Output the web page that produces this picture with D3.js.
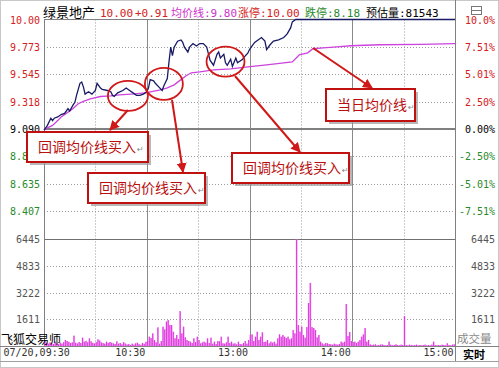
<!DOCTYPE html>
<html>
<head>
<meta charset="utf-8">
<script src="https://cdn.jsdelivr.net/npm/d3@7/dist/d3.min.js"></script>
<style>
  html, body { margin: 0; padding: 0; background: #fff; }
  svg { display: block; }
  .mono { font-family: "DejaVu Sans Mono", "Noto Sans CJK SC", monospace; }
  .cjk { font-family: "Noto Sans CJK SC", "DejaVu Sans", sans-serif; }
</style>
</head>
<body>
<svg id="chart" width="499" height="368"></svg>
<script>
// ---- intraday data: minutes after 09:30 (0..240) ----
const priceMinutes = [0,1,2,4,5,6,8,10,12,14,15,17,18,19,21,22,23,24,26,28,30,31,33,34,37,39,40,41,43,46,47,48,50,52,54,56,58,60,61,62,64,65,67,69,70,72,73,74,75,76,78,80,81,82,84,85,87,89,91,93,95,97,99,101,102,103,105,106,107,109,110,112,113,116,117,119,120,121,123,125,127,129,130,132,134,137,140,142,144,145,147,150,180,210,240];
const priceValues  = [9.08,9.10,9.12,9.18,9.16,9.18,9.19,9.21,9.22,9.26,9.24,9.29,9.31,9.37,9.47,9.48,9.44,9.38,9.40,9.38,9.41,9.47,9.43,9.42,9.41,9.40,9.37,9.36,9.39,9.41,9.42,9.43,9.41,9.39,9.37,9.37,9.38,9.40,9.43,9.50,9.49,9.47,9.44,9.41,9.45,9.51,9.65,9.77,9.70,9.77,9.82,9.83,9.81,9.77,9.73,9.77,9.80,9.78,9.80,9.80,9.77,9.66,9.62,9.71,9.73,9.68,9.71,9.64,9.62,9.67,9.61,9.68,9.64,9.67,9.69,9.72,9.75,9.77,9.81,9.83,9.85,9.82,9.75,9.79,9.82,9.83,9.85,9.88,9.93,9.98,10.00,10.00,10.00,10.00,10.00];

const avgMinutes = [0,2,5,8,10,13,17,20,23,27,33,39,44,53,59,62,68,72,76,79,83,86,91,99,109,119,130,140,145,148,149,154,157,163,171,179,196,220,240];
const avgValues  = [9.08,9.10,9.12,9.16,9.19,9.22,9.26,9.30,9.32,9.34,9.36,9.365,9.373,9.382,9.39,9.398,9.415,9.432,9.457,9.49,9.532,9.557,9.565,9.582,9.59,9.607,9.623,9.64,9.648,9.69,9.707,9.723,9.757,9.765,9.773,9.782,9.79,9.794,9.80];

// one-minute volume bars, 240 minutes
const volumes = [
  320,180,140,210,160,120,260,150,110,190,
  140,230,360,300,250,180,220,620,200,150,
  240,180,500,260,310,220,460,280,190,150,
  230,400,330,210,170,140,260,180,240,200,
  160,120,280,140,180,100,230,150,90,120,
  60,140,80,160,200,110,70,180,130,250,
  300,560,480,760,360,220,1120,140,300,1160,
  1000,1470,1560,1260,1260,860,460,660,420,2100,
  760,1160,520,360,300,260,180,460,240,560,
  360,160,220,260,200,460,180,500,140,260,
  120,300,280,560,160,140,220,560,180,260,
  140,160,100,260,120,100,180,300,140,360,
  660,700,300,560,860,360,560,820,240,260,
  360,160,260,200,260,140,460,700,560,660,
  560,480,560,400,460,960,760,6445,1260,860,
  1160,660,500,1140,2590,3800,1140,1080,960,520,
  660,260,160,100,180,160,120,100,80,140,
  100,80,120,260,200,260,2530,600,840,300,
  240,260,180,260,360,560,700,1080,260,360,
  100,60,80,100,40,60,80,100,60,40,
  60,260,80,40,60,100,60,40,80,60,
  1800,60,40,80,60,40,60,80,40,60,
  40,60,80,40,60,40,80,260,60,40,
  60,40,80,60,40,160,60,40,80,100
];

const prevClose = 9.09;
const priceTicks = [10.00, 9.7725, 9.545, 9.3175, 9.09, 8.8625, 8.635, 8.4075];
const priceTickLabels = ["10.00","9.773","9.545","9.318","9.090","8.863","8.635","8.407"];
const pctTickLabels = ["10.0%","7.51%","5.01%","2.50%","0.00%","-2.50%","-5.01%","-7.51%"];
const volTicks = [6445, 4833, 3222, 1611];
const timeTicks = [0, 60, 120, 180, 240];
const timeTickLabels = ["07/20,09:30","10:30","13:00","14:00","15:00"];
const halfHourTicks = [30, 90, 150, 210];
const hourTicks = [60, 120, 180];

const header = [
  {text: "绿景地产", x: 43, color: "#000", cls: "cjk", size: 13},
  {text: "10.00", x: 100, color: "#d42020", cls: "mono", size: 11},
  {text: "+0.91", x: 135, color: "#d42020", cls: "mono", size: 11},
  {text: "均价线:9.80", x: 171, color: "#cc33cc", cls: "mono", size: 11},
  {text: "涨停:10.00", x: 238, color: "#d42020", cls: "mono", size: 11},
  {text: "跌停:8.18", x: 305, color: "#2a8a2a", cls: "mono", size: 11},
  {text: "预估量:81543", x: 366, color: "#000", cls: "mono", size: 11}
];

// ---- geometry ----
const L = 44, R = 455, T = 19.5, MID = 239, VB = 346;
const x = d3.scaleLinear().domain([0, 240]).range([L, R]);
const y = d3.scaleLinear().domain([8.18, 10.00]).range([238.5, T]);
const yv = d3.scaleLinear().domain([0, 6445]).range([VB, MID]);

const svg = d3.select("#chart");
const upColor = "#d42020", downColor = "#2a8a2a";
const tickColor = v => v > prevClose + 1e-6 ? upColor : (v < prevClose - 1e-6 ? downColor : "#000");

// outer border
svg.append("rect").attr("x", 0.5).attr("y", 0.5).attr("width", 498).attr("height", 367)
  .attr("fill", "none").attr("stroke", "#c8c8c8");

// ---- grid ----
const grid = svg.append("g");
priceTicks.filter(v => v !== 10 && v !== prevClose).forEach(v => {
  grid.append("line").attr("x1", L).attr("x2", R).attr("y1", Math.round(y(v)) + 0.5).attr("y2", Math.round(y(v)) + 0.5)
    .attr("stroke", "#9a9a9a").attr("stroke-dasharray", "1,2");
});
volTicks.slice(1).forEach(v => {
  grid.append("line").attr("x1", L).attr("x2", R).attr("y1", Math.round(yv(v)) + 0.5).attr("y2", Math.round(yv(v)) + 0.5)
    .attr("stroke", "#9a9a9a").attr("stroke-dasharray", "1,2");
});
halfHourTicks.forEach(t => {
  grid.append("line").attr("x1", Math.round(x(t)) + 0.5).attr("x2", Math.round(x(t)) + 0.5).attr("y1", T).attr("y2", VB)
    .attr("stroke", "#9a9a9a").attr("stroke-dasharray", "1,2");
});
hourTicks.forEach(t => {
  grid.append("line").attr("x1", Math.round(x(t)) + 0.5).attr("x2", Math.round(x(t)) + 0.5).attr("y1", T).attr("y2", VB)
    .attr("stroke", "#8a8a8a");
});
// previous close line and price/volume divider
grid.append("line").attr("x1", L).attr("x2", R).attr("y1", y(prevClose)).attr("y2", y(prevClose))
  .attr("stroke", "#808080").attr("stroke-width", 2);
grid.append("line").attr("x1", L).attr("x2", R).attr("y1", MID + 0.5).attr("y2", MID + 0.5)
  .attr("stroke", "#707070").attr("stroke-width", 1.2);

// frame
const frame = svg.append("g").attr("stroke", "#808080").attr("fill", "none");
frame.append("line").attr("x1", L).attr("x2", R).attr("y1", T).attr("y2", T);
frame.append("line").attr("x1", L + 0.5).attr("x2", L + 0.5).attr("y1", T).attr("y2", VB);
frame.append("line").attr("x1", R + 0.5).attr("x2", R + 0.5).attr("y1", 0).attr("y2", 362);
frame.append("line").attr("x1", 0).attr("x2", 499).attr("y1", VB + 0.5).attr("y2", VB + 0.5);
frame.append("line").attr("x1", 0).attr("x2", 499).attr("y1", 361.5).attr("y2", 361.5).attr("stroke", "#a0a0a0");

// ---- volume bars: light fill with a darker edge line ----
const bars = svg.append("g");
bars.selectAll("rect.v").data(volumes).join("rect")
  .attr("class", "v")
  .attr("x", (d, i) => x(i + 0.5) - 0.8)
  .attr("width", 1.7)
  .attr("y", d => yv(d))
  .attr("height", d => VB - yv(d))
  .attr("fill", "#f29af2");
bars.selectAll("line.v").data(volumes).join("line")
  .attr("class", "v")
  .attr("x1", (d, i) => x(i + 0.5)).attr("x2", (d, i) => x(i + 0.5))
  .attr("y1", d => yv(d)).attr("y2", VB)
  .attr("stroke", "#d81ed8").attr("stroke-width", 0.8);

// ---- average and price lines ----
const lineGen = d3.line().x(d => x(d[0])).y(d => y(d[1]));
svg.append("path").datum(avgMinutes.map((m, i) => [m, avgValues[i]]))
  .attr("d", lineGen).attr("fill", "none").attr("stroke", "#cc44dd").attr("stroke-width", 1.3);
svg.append("path").datum(priceMinutes.map((m, i) => [m, priceValues[i]]))
  .attr("d", lineGen).attr("fill", "none").attr("stroke", "#181a66").attr("stroke-width", 1.3);

// ---- axes ----
const leftAxis = svg.append("g").attr("class", "mono").attr("transform", `translate(${L - 4},0)`)
  .call(d3.axisLeft(y).tickValues(priceTicks).tickSize(0).tickPadding(0)
    .tickFormat((d, i) => priceTickLabels[i]));
leftAxis.select(".domain").remove();
leftAxis.selectAll("text").attr("font-size", 10).attr("fill", d => tickColor(d)).attr("dy", "0.35em");

const rightAxis = svg.append("g").attr("class", "mono").attr("transform", "translate(495,0)")
  .call(d3.axisLeft(y).tickValues(priceTicks).tickSize(0).tickPadding(0)
    .tickFormat((d, i) => pctTickLabels[i]));
rightAxis.select(".domain").remove();
rightAxis.selectAll("text").attr("font-size", 10).attr("fill", d => tickColor(d)).attr("dy", "0.35em");

const volAxisL = svg.append("g").attr("class", "mono").attr("transform", `translate(${L - 4},0)`)
  .call(d3.axisLeft(yv).tickValues(volTicks).tickSize(0).tickPadding(0).tickFormat(d3.format("d")));
volAxisL.select(".domain").remove();
volAxisL.selectAll("text").attr("font-size", 10).attr("fill", "#555").attr("dy", "0.35em");

const volAxisR = svg.append("g").attr("class", "mono").attr("transform", "translate(495,0)")
  .call(d3.axisLeft(yv).tickValues(volTicks).tickSize(0).tickPadding(0).tickFormat(d3.format("d")));
volAxisR.select(".domain").remove();
volAxisR.selectAll("text").attr("font-size", 10).attr("fill", "#555").attr("dy", "0.35em");

const timeAxis = svg.append("g").attr("class", "mono").attr("transform", `translate(0,${VB})`)
  .call(d3.axisBottom(x).tickValues(timeTicks).tickSize(0).tickPadding(3)
    .tickFormat((d, i) => timeTickLabels[i]));
timeAxis.select(".domain").remove();
timeAxis.selectAll("text").attr("font-size", 10).attr("fill", "#333")
  .attr("text-anchor", (d, i) => i === 0 ? "start" : "end")
  .attr("dx", (d, i) => i === 0 ? -41 : -2);

// panel captions
svg.append("text").attr("class", "cjk").attr("x", 1).attr("y", 344).attr("font-size", 12).attr("fill", "#000").text("飞狐交易师");
svg.append("text").attr("class", "cjk").attr("x", 457).attr("y", 343).attr("font-size", 11.5).attr("fill", "#888").text("成交量");
svg.append("text").attr("class", "cjk").attr("x", 463).attr("y", 359).attr("font-size", 11).attr("font-weight", "bold").attr("fill", "#000").text("实时");

// small toggle icon above the percentage scale
svg.append("rect").attr("x", 471.5).attr("y", 6.5).attr("width", 10).attr("height", 8).attr("fill", "#fff").attr("stroke", "#777");
svg.append("line").attr("x1", 471.5).attr("x2", 481.5).attr("y1", 10.5).attr("y2", 10.5).attr("stroke", "#777");

// header line
svg.append("g").selectAll("text").data(header).join("text")
  .attr("class", d => d.cls).attr("x", d => d.x).attr("y", 16.5)
  .attr("font-size", d => d.size).attr("fill", d => d.color).text(d => d.text);

// ---- annotations ----
const red = "#d01818";
const defs = svg.append("defs");
defs.append("marker").attr("id", "ah").attr("viewBox", "0 0 10 10").attr("refX", 9).attr("refY", 5)
  .attr("markerWidth", 5).attr("markerHeight", 5).attr("orient", "auto")
  .append("path").attr("d", "M0,0 L10,5 L0,10 z").attr("fill", red);

const circles = [
  {m: 49, p: 9.365, rx: 20, ry: 15},
  {m: 70, p: 9.465, rx: 19, ry: 16},
  {m: 106, p: 9.65, rx: 19, ry: 15}
];
const ann = svg.append("g");
ann.selectAll("ellipse").data(circles).join("ellipse")
  .attr("cx", d => x(d.m)).attr("cy", d => y(d.p)).attr("rx", d => d.rx).attr("ry", d => d.ry)
  .attr("fill", "none").attr("stroke", red).attr("stroke-width", 1.8);

const arrows = [
  [[128, 110], [110, 130]],
  [[172, 100], [183, 172]],
  [[235, 76], [300, 152]],
  [[313, 48], [372, 88]]
];
ann.selectAll("line.arrow").data(arrows).join("line").attr("class", "arrow")
  .attr("x1", d => d[0][0]).attr("y1", d => d[0][1]).attr("x2", d => d[1][0]).attr("y2", d => d[1][1])
  .attr("stroke", red).attr("stroke-width", 2).attr("marker-end", "url(#ah)");

const boxes = [
  {x: 27, y: 132, w: 121, h: 30, text: "回调均价线买入"},
  {x: 88, y: 173, w: 117, h: 30, text: "回调均价线买入"},
  {x: 232, y: 153, w: 117, h: 30, text: "回调均价线买入"},
  {x: 326, y: 89, w: 89, h: 32, text: "当日均价线"}
];
const bx = ann.selectAll("g.box").data(boxes).join("g").attr("class", "box");
bx.append("rect").attr("x", d => d.x + 3).attr("y", d => d.y + 3).attr("width", d => d.w).attr("height", d => d.h)
  .attr("fill", "#9a9a9a").attr("opacity", 0.7);
bx.append("rect").attr("x", d => d.x).attr("y", d => d.y).attr("width", d => d.w).attr("height", d => d.h)
  .attr("fill", "#fff").attr("stroke", "#c01010").attr("stroke-width", 2);
bx.append("text").attr("class", "cjk").attr("x", d => d.x + 11).attr("y", d => d.y + d.h / 2 + 5)
  .attr("font-size", 14).attr("fill", "#b81010").text(d => d.text)
  .append("tspan").attr("font-size", 8).attr("fill", "#888").attr("dx", 1).text("↵");
</script>
</body>
</html>
